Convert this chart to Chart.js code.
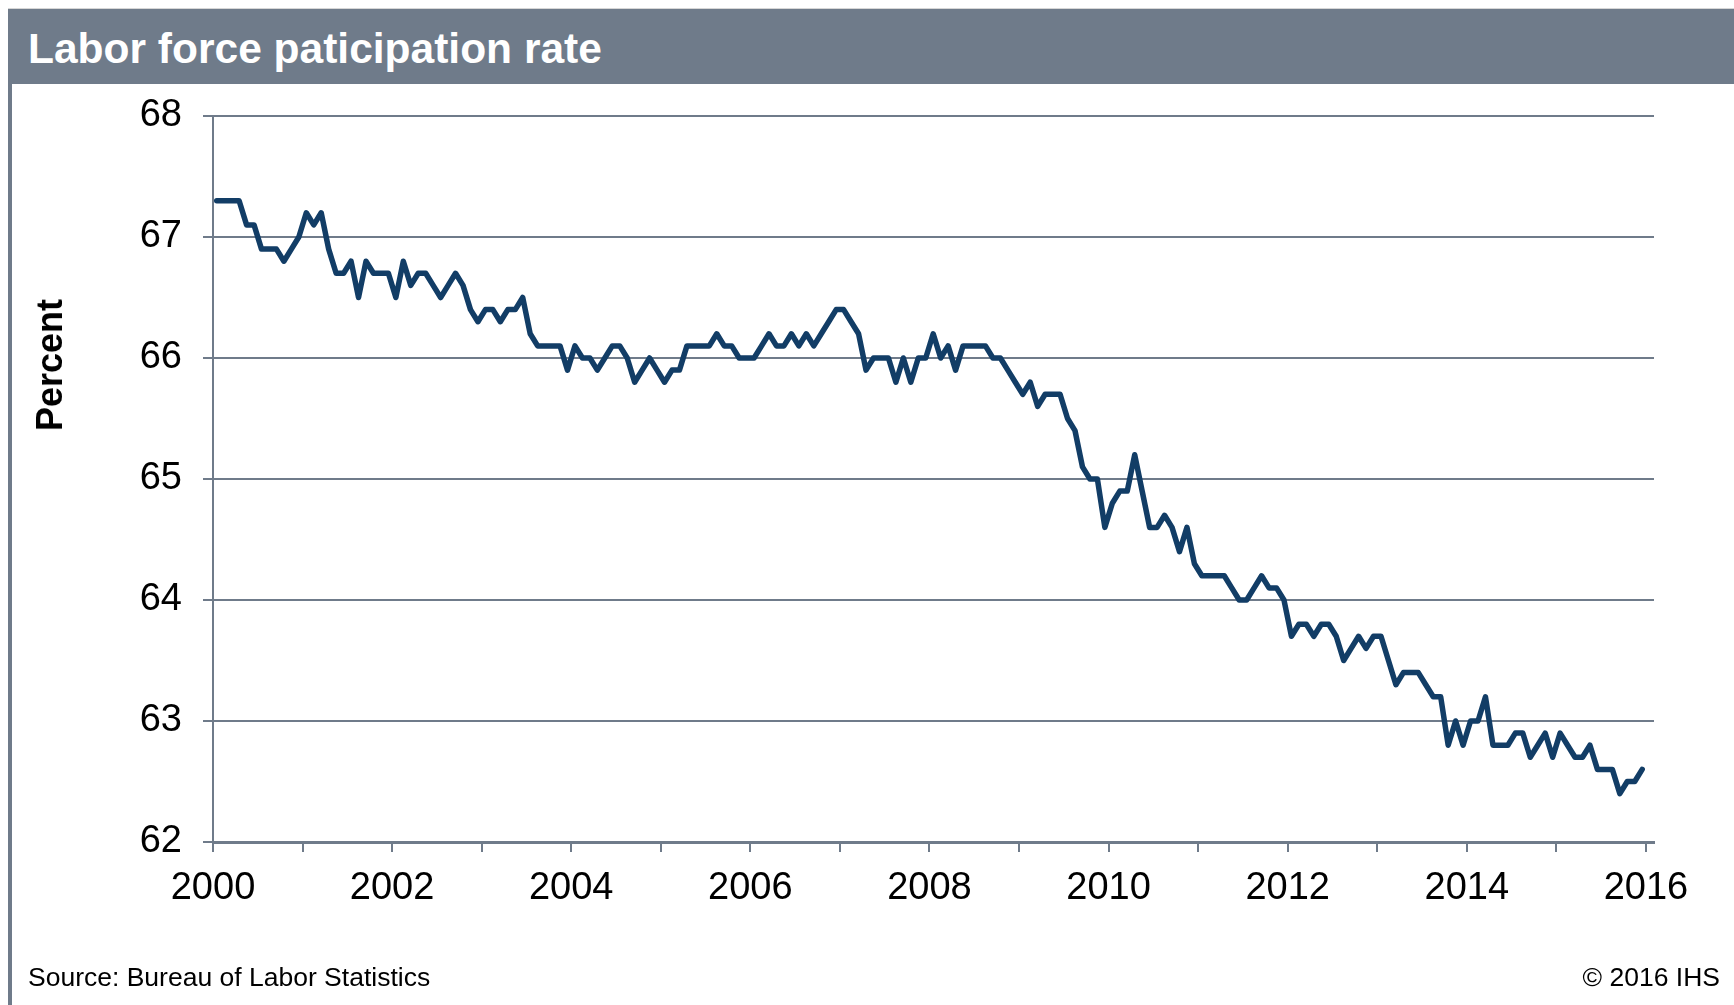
<!DOCTYPE html>
<html lang="en">
<head>
  <meta charset="UTF-8">
  <title>Labor force paticipation rate</title>
  <script src="https://cdn.jsdelivr.net/npm/chart.js"></script>
  <style>
    html, body {
      margin: 0;
      padding: 0;
      background: #fff;
    }
    #page {
      position: relative;
      width: 1734px;
      height: 1005px;
      overflow: hidden;
      font-family: "Liberation Sans", Arial, sans-serif;
    }
    #title-bar {
      position: absolute;
      left: 8px;
      top: 8px;
      width: 1726px;
      height: 76px;
      background: #6f7b8a;
      border-top: 1px solid #d6d6d6;
      box-sizing: border-box;
    }
    #title-bar span {
      position: absolute;
      left: 20px;
      top: 15px;
      color: #fff;
      font-weight: bold;
      font-size: 42.5px;
      line-height: 50px;
    }
    #left-rule {
      position: absolute;
      left: 8px;
      top: 84px;
      width: 4px;
      height: 921px;
      background: #6f7b8a;
    }
    #y-title {
      position: absolute;
      left: 50px;
      top: 365px;
      transform: translate(-50%, -50%) rotate(-90deg);
      font-weight: bold;
      font-size: 36px;
      color: #000;
      white-space: nowrap;
    }
    #source, #copyright {
      position: absolute;
      top: 962px;
      font-size: 26.5px;
      color: #000;
    }
    #source { left: 28px; }
    #copyright { right: 14px; }
    canvas {
      position: absolute;
      left: 0;
      top: 0;
    }
  </style>
</head>
<body>
  <div id="page">
    <canvas id="lfprChart" width="1734" height="1005"></canvas>
    <div id="title-bar"><span>Labor force paticipation rate</span></div>
    <div id="left-rule"></div>
    <div id="y-title">Percent</div>
    <div id="source">Source: Bureau of Labor Statistics</div>
    <div id="copyright">© 2016 IHS</div>
  </div>

  <script>
    // monthly labor force participation rate, Jan..Dec of each year (percent)
    const rate2000 = [67.3, 67.3, 67.3, 67.3, 67.1, 67.1, 66.9, 66.9, 66.9, 66.8, 66.9, 67.0];
    const rate2001 = [67.2, 67.1, 67.2, 66.9, 66.7, 66.7, 66.8, 66.5, 66.8, 66.7, 66.7, 66.7];
    const rate2002 = [66.5, 66.8, 66.6, 66.7, 66.7, 66.6, 66.5, 66.6, 66.7, 66.6, 66.4, 66.3];
    const rate2003 = [66.4, 66.4, 66.3, 66.4, 66.4, 66.5, 66.2, 66.1, 66.1, 66.1, 66.1, 65.9];
    const rate2004 = [66.1, 66.0, 66.0, 65.9, 66.0, 66.1, 66.1, 66.0, 65.8, 65.9, 66.0, 65.9];
    const rate2005 = [65.8, 65.9, 65.9, 66.1, 66.1, 66.1, 66.1, 66.2, 66.1, 66.1, 66.0, 66.0];
    const rate2006 = [66.0, 66.1, 66.2, 66.1, 66.1, 66.2, 66.1, 66.2, 66.1, 66.2, 66.3, 66.4];
    const rate2007 = [66.4, 66.3, 66.2, 65.9, 66.0, 66.0, 66.0, 65.8, 66.0, 65.8, 66.0, 66.0];
    const rate2008 = [66.2, 66.0, 66.1, 65.9, 66.1, 66.1, 66.1, 66.1, 66.0, 66.0, 65.9, 65.8];
    const rate2009 = [65.7, 65.8, 65.6, 65.7, 65.7, 65.7, 65.5, 65.4, 65.1, 65.0, 65.0, 64.6];
    const rate2010 = [64.8, 64.9, 64.9, 65.2, 64.9, 64.6, 64.6, 64.7, 64.6, 64.4, 64.6, 64.3];
    const rate2011 = [64.2, 64.2, 64.2, 64.2, 64.1, 64.0, 64.0, 64.1, 64.2, 64.1, 64.1, 64.0];
    const rate2012 = [63.7, 63.8, 63.8, 63.7, 63.8, 63.8, 63.7, 63.5, 63.6, 63.7, 63.6, 63.7];
    const rate2013 = [63.7, 63.5, 63.3, 63.4, 63.4, 63.4, 63.3, 63.2, 63.2, 62.8, 63.0, 62.8];
    const rate2014 = [63.0, 63.0, 63.2, 62.8, 62.8, 62.8, 62.9, 62.9, 62.7, 62.8, 62.9, 62.7];
    const rate2015 = [62.9, 62.8, 62.7, 62.7, 62.8, 62.6, 62.6, 62.6, 62.4, 62.5, 62.5, 62.6];

    const years = [2000, 2001, 2002, 2003, 2004, 2005, 2006, 2007,
                   2008, 2009, 2010, 2011, 2012, 2013, 2014, 2015, 2016];
    const yearLabels = ['2000', '', '2002', '', '2004', '', '2006', '', '2008',
                        '', '2010', '', '2012', '', '2014', '', '2016'];
    const percentTicks = [62, 63, 64, 65, 66, 67, 68];

    const byYear = [rate2000, rate2001, rate2002, rate2003, rate2004, rate2005, rate2006, rate2007,
                    rate2008, rate2009, rate2010, rate2011, rate2012, rate2013, rate2014, rate2015];

    // each month sits in the middle of its slot on the date axis
    const points = [];
    byYear.forEach((vals, yi) => {
      vals.forEach((v, m) => {
        points.push({ x: years[yi] + (m + 0.5) / 12, y: v });
      });
    });

    const gray = '#6f7b8a';
    const tickFont = { family: '"Liberation Sans", Arial, sans-serif', size: 38 };

    new Chart(document.getElementById('lfprChart'), {
      type: 'line',
      data: {
        datasets: [{
          label: 'Labor force participation rate',
          data: points,
          borderColor: '#123d66',
          borderWidth: 5.5,
          pointRadius: 0,
          tension: 0,
          borderJoinStyle: 'round',
          borderCapStyle: 'round',
          fill: false
        }]
      },
      options: {
        responsive: false,
        animation: false,
        layout: {
          padding: { left: 0, top: 116, right: 80, bottom: 103 }
        },
        plugins: {
          legend: { display: false },
          tooltip: { enabled: false }
        },
        scales: {
          x: {
            type: 'linear',
            min: 2000,
            max: 2016.09,
            afterBuildTicks: scale => {
              scale.ticks = years.map(v => ({ value: v }));
            },
            afterFit: scale => { scale.height = 60; },
            ticks: {
              autoSkip: false,
              maxRotation: 0,
              padding: 14,
              color: '#000',
              font: tickFont,
              callback: (value, i) => yearLabels[i]
            },
            grid: {
              drawOnChartArea: false,
              drawTicks: true,
              tickLength: 10,
              color: gray,
              lineWidth: 2
            },
            border: { display: true, color: gray, width: 3 }
          },
          y: {
            min: 62,
            max: 68,
            afterBuildTicks: scale => {
              scale.ticks = percentTicks.map(v => ({ value: v }));
            },
            afterFit: scale => { scale.width = 213; },
            ticks: {
              padding: 21,
              color: '#000',
              font: tickFont
            },
            grid: {
              color: gray,
              lineWidth: 2,
              tickLength: 10
            },
            border: { display: true, color: gray, width: 2 }
          }
        }
      }
    });
  </script>
</body>
</html>
